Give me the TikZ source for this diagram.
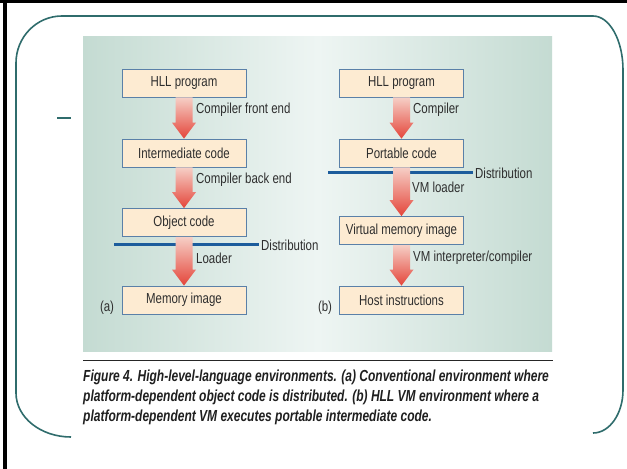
\documentclass[tikz,border=0pt]{standalone}
\usepackage{fontspec}
\setmainfont{Liberation Sans}
\newfontfamily\condfont[FakeStretch=0.79]{Liberation Sans}
\newfontfamily\capfont[FakeStretch=0.75]{Liberation Sans}
\usetikzlibrary{calc}

\definecolor{frameteal}{HTML}{2F6C6C}
\definecolor{panelside}{HTML}{C4DBD2}
\definecolor{panelmid}{HTML}{EEF5F3}
\definecolor{boxfill}{HTML}{FDEBD2}
\definecolor{boxborder}{HTML}{5A80A8}
\definecolor{distblue}{HTML}{1C5C9C}
\definecolor{arrowtop}{HTML}{F6CFC6}
\definecolor{arrowbot}{HTML}{E4453A}
\definecolor{labeltext}{HTML}{2E2E2E}

\tikzset{
  stagebox/.style={draw=boxborder, fill=boxfill, line width=0.8bp,
    minimum width=124bp, minimum height=28bp, inner sep=0pt,
    font=\condfont\fontsize{14.5bp}{16bp}\selectfont, text=labeltext},
  steplabel/.style={anchor=west, inner sep=0pt,
    font=\condfont\fontsize{14.5bp}{16bp}\selectfont, text=labeltext},
  distline/.style={draw=distblue, line width=3bp},
  arrowshade/.style={top color=arrowtop, bottom color=arrowbot, draw=none},
  captionline/.style={anchor=west, inner sep=0pt, text=black!88,
    font=\capfont\bfseries\itshape\fontsize{16bp}{18bp}\selectfont},
}

% shaded block arrow from the bottom of one box to the top of the next
\newcommand\flowarrow[2]{%
  \shade[arrowshade]
    ($(#1.south)+(-8.5,0)$) -- ($(#2.north)+(-8.5,-16)$) --
    ($(#2.north)+(-12,-16)$) -- (#2.north) -- ($(#2.north)+(12,-16)$) --
    ($(#2.north)+(8.5,-16)$) -- ($(#1.south)+(8.5,0)$) -- cycle;}

\begin{document}
\begin{tikzpicture}[x=1bp, y=-1bp]
\useasboundingbox (0,0) rectangle (627,469);
\fill[white] (0,0) rectangle (627,469);

% outer black edges
\draw[line width=3.5bp] (0,1.7) -- (627,1.7);
\draw[line width=4bp] (5,0) -- (5,469);

% rounded teal frame
\draw[frameteal, line width=1.6bp]
  (71,437) .. controls (40.6,437) and (16,417.3) .. (16,393)
  -- (16,63) .. controls (16,37) and (36.6,16) .. (62,16)
  -- (593,16) .. controls (609.6,16) and (623,40.2) .. (623,70)
  -- (623,390) .. controls (623,413.7) and (609.6,433) .. (593,433);
\draw[frameteal, line width=2.6bp] (57,118) -- (71,118);

% figure panel
\shade[left color=panelside, right color=panelside, middle color=panelmid]
  (83,37) rectangle (552,351);

% (a) conventional environment
\node[stagebox] (a1) at (184,83)    {HLL program};
\node[stagebox] (a2) at (184,153)   {Intermediate code};
\node[stagebox] (a3) at (184,222.5) {Object code};
\node[stagebox] (a4) at (184,300)   {Memory image};

% (b) HLL VM environment
\node[stagebox] (b1) at (401.5,83)    {HLL program};
\node[stagebox] (b2) at (401.5,153)   {Portable code};
\node[stagebox] (b3) at (401.5,230.5) {Virtual memory image};
\node[stagebox] (b4) at (401.5,300)   {Host instructions};

% distribution boundaries
\coordinate (da) at (114,245);
\node[steplabel, inner xsep=2pt] (dta) at (259,245) {Distribution};
\draw[distline] (da) -- (dta.west);
\coordinate (db) at (328,173);
\node[steplabel, inner xsep=2pt] (dtb) at (473,173) {Distribution};
\draw[distline] (db) -- (dtb.west);

% block arrows
\flowarrow{a1}{a2}
\flowarrow{a2}{a3}
\flowarrow{a3}{a4}
\flowarrow{b1}{b2}
\flowarrow{b2}{b3}
\flowarrow{b3}{b4}

% arrow labels
\node[steplabel] at (196,110) {Compiler front end};
\node[steplabel] at (196,180) {Compiler back end};
\node[steplabel] at (196,258) {Loader};
\node[steplabel] at (413,110) {Compiler};
\node[steplabel] at (412,187) {VM loader};
\node[steplabel] at (413,258) {VM interpreter/compiler};

% panel tags
\node[steplabel, anchor=center] at (107,308) {(a)};
\node[steplabel, anchor=center] at (325,308) {(b)};

% caption
\draw[black!85, line width=1bp] (83,360) -- (553,360);
\node[captionline] at (83,377) {Figure 4. High-level-language environments. (a) Conventional environment where};
\node[captionline] at (83,397) {platform-dependent object code is distributed. (b) HLL VM environment where a};
\node[captionline] at (83,417) {platform-dependent VM executes portable intermediate code.};
\end{tikzpicture}
\end{document}
